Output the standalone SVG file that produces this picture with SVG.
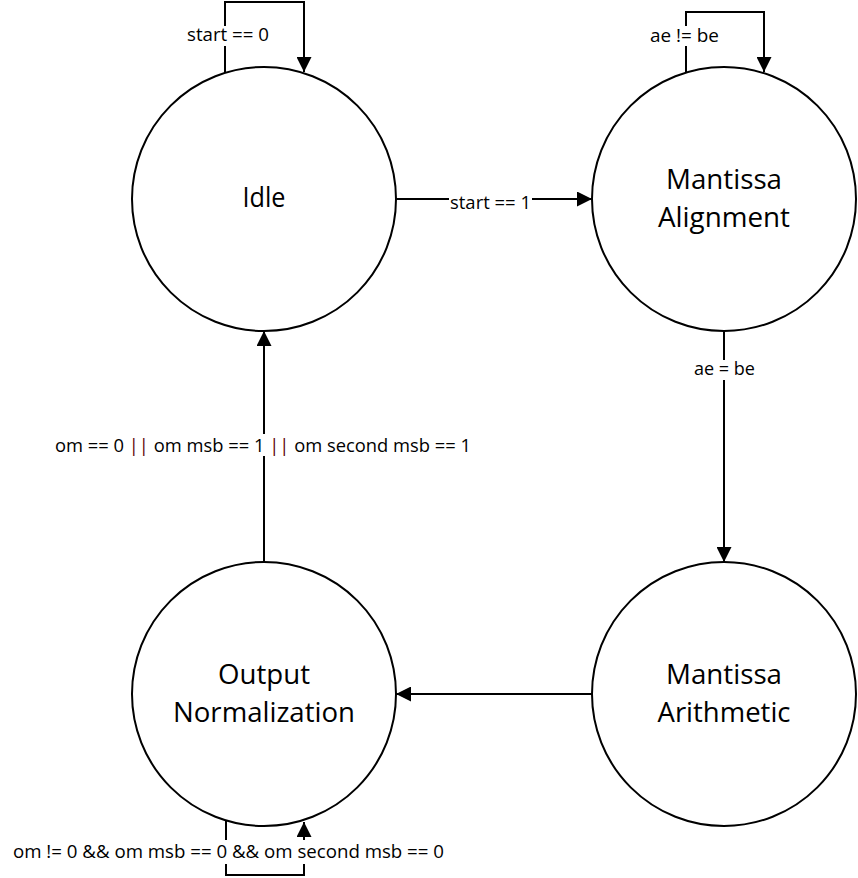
<svg xmlns="http://www.w3.org/2000/svg" width="858" height="878" viewBox="0 0 858 878">
<defs>
<style>
.st{fill:#fff;stroke:#000;stroke-width:2}
.nt{font-family:"Open Sans","Liberation Sans",sans-serif;font-size:27px;fill:#000;text-anchor:middle}
.ln{fill:none;stroke:#000;stroke-width:2}
.lb{font-family:"Open Sans","Liberation Sans",sans-serif;font-size:17.5px;fill:#000}
.bg{fill:#fff}
.or{fill:#5a0000}
</style>
<marker id="ah" viewBox="0 0 15 15" refX="15" refY="7.5" markerWidth="15" markerHeight="15" markerUnits="userSpaceOnUse" orient="auto">
<path d="M0,0 L15,7.5 L0,15 Z" fill="#000"/>
</marker>
</defs>
<rect width="858" height="878" fill="#fff"/>
<g id="connectors">
<path class="ln" d="M225,73 V2 H304 V72" marker-end="url(#ah)"/>
<path class="ln" d="M686,73 V12 H764 V72" marker-end="url(#ah)"/>
<path class="ln" d="M396,199 H592" marker-end="url(#ah)"/>
<path class="ln" d="M724,331 V562" marker-end="url(#ah)"/>
<path class="ln" d="M592,694 H396" marker-end="url(#ah)"/>
<path class="ln" d="M264,562 V331" marker-end="url(#ah)"/>
<path class="ln" d="M226,821 V875 H304 V822" marker-end="url(#ah)"/>
<rect class="bg" x="186" y="26" width="84" height="20"/>
<text class="lb" x="187" y="41" textLength="82" lengthAdjust="spacingAndGlyphs">start == 0</text>
<rect class="bg" x="649" y="26" width="71" height="20"/>
<text class="lb" x="650" y="42" textLength="69" lengthAdjust="spacingAndGlyphs">ae != be</text>
<rect class="bg" x="449" y="192" width="83" height="20"/>
<text class="lb" x="450" y="209" textLength="81" lengthAdjust="spacingAndGlyphs">start == 1</text>
<rect class="bg" x="693" y="360" width="63" height="20"/>
<text class="lb" x="694" y="375" textLength="61" lengthAdjust="spacingAndGlyphs">ae = be</text>
<rect class="bg" x="54" y="434" width="418" height="22"/>
<text class="lb" x="55" y="452" textLength="416" lengthAdjust="spacingAndGlyphs">om == 0 <tspan class="or">||</tspan> om msb == 1 <tspan class="or">||</tspan> om second msb == 1</text>
<rect class="bg" x="12" y="840" width="434" height="24"/>
<text class="lb" x="13" y="858" textLength="431" lengthAdjust="spacingAndGlyphs">om != 0 &amp;&amp; om msb == 0 &amp;&amp; om second msb == 0</text>
</g>
<g id="idle">
<circle class="st" cx="264" cy="199" r="132"/>
<text class="nt" x="264" y="207" textLength="43" lengthAdjust="spacingAndGlyphs">Idle</text>
</g>
<g id="mantissa-alignment">
<circle class="st" cx="724" cy="199" r="132"/>
<text class="nt" x="724" y="189" textLength="116" lengthAdjust="spacingAndGlyphs">Mantissa</text>
<text class="nt" x="724" y="227" textLength="132" lengthAdjust="spacingAndGlyphs">Alignment</text>
</g>
<g id="mantissa-arithmetic">
<circle class="st" cx="724" cy="694" r="132"/>
<text class="nt" x="724" y="684" textLength="116" lengthAdjust="spacingAndGlyphs">Mantissa</text>
<text class="nt" x="724" y="722" textLength="133" lengthAdjust="spacingAndGlyphs">Arithmetic</text>
</g>
<g id="output-normalization">
<circle class="st" cx="264" cy="694" r="132"/>
<text class="nt" x="264" y="684" textLength="92" lengthAdjust="spacingAndGlyphs">Output</text>
<text class="nt" x="264" y="722" textLength="182" lengthAdjust="spacingAndGlyphs">Normalization</text>
</g>
</svg>
